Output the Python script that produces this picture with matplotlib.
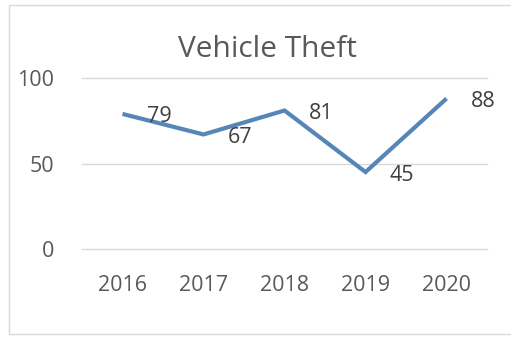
import matplotlib
matplotlib.use("Agg")
import matplotlib.pyplot as plt
from matplotlib.patches import Rectangle

# data
years = ["2016", "2017", "2018", "2019", "2020"]
thefts = [79, 67, 81, 45, 88]
y_ticks = [0, 50, 100]

text_color = "#595959"
grid_color = "#d9d9d9"
line_color = "#5686b8"

plt.rcParams["font.family"] = ["Open Sans", "DejaVu Sans"]

fig = plt.figure(figsize=(5.11, 3.37), dpi=100)
ax = fig.add_axes([0.1605, 0.2611, 0.7926, 0.5074])

x = list(range(len(years)))
ax.plot(x, thefts, color=line_color, linewidth=3.0, solid_joinstyle="miter",
        solid_capstyle="butt", zorder=3)

# value labels to the right of each point
for xi, v in zip(x, thefts):
    ax.annotate(str(v), (xi, v), xytext=(24, -3), textcoords="offset pixels",
                ha="left", va="center", fontsize=15.5, color="#404040", zorder=4)

ax.set_xlim(-0.5, len(years) - 0.5)
ax.set_ylim(0, 100)
ax.set_xticks(x)
ax.set_xticklabels(years)
ax.set_yticks(y_ticks)
ax.tick_params(axis="both", length=0, labelsize=15.5, labelcolor=text_color)
ax.tick_params(axis="x", pad=19)
ax.tick_params(axis="y", pad=20)
ax.grid(axis="y", color=grid_color, linewidth=1)
for gl in ax.get_ygridlines():
    gl.set_clip_on(False)
ax.set_axisbelow(True)
for s in ax.spines.values():
    s.set_visible(False)

fig.text(0.5225, 0.852, "Vehicle Theft", ha="center", va="center",
         fontsize=21.5, color=text_color)

# chart frame
fig.patches.append(Rectangle((9 / 511, 3 / 337), 1.0, 1 - 8 / 337,
                             transform=fig.transFigure, fill=False,
                             edgecolor=grid_color, linewidth=1))

fig.savefig("out.png", dpi=100)
